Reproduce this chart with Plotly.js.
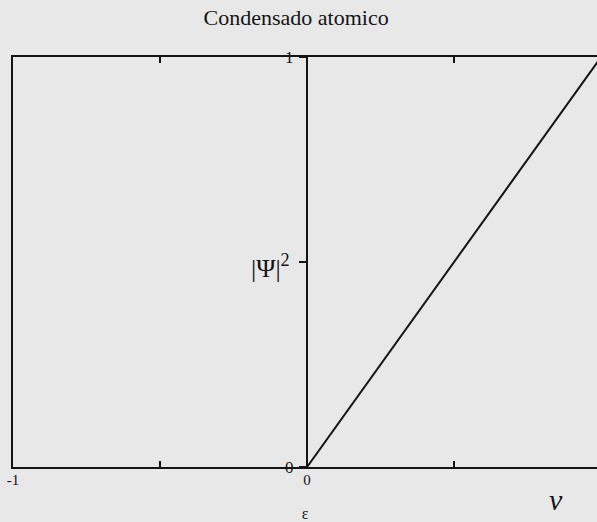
<!DOCTYPE html>
<html>
<head>
<meta charset="utf-8">
<script src="https://cdn.plot.ly/plotly-3.0.1.min.js"></script>
<style>
  html, body { margin: 0; padding: 0; background: #e8e8e8; }
  #chart { width: 597px; height: 522px; }
</style>
</head>
<body>
<div id="chart"></div>
<script>
// Atomic condensate: density grows linearly with energy above zero
const epsilon = [0, 1];
const density = [0, 1];

const xTickVals = [-1, -0.5, 0, 0.5];
const xTickText = ['-1', '', '0', ''];
const yTickVals = [0, 0.5, 1];
const yTickText = ['0', '', '1'];

const serif = 'Liberation Serif';
const ink = '#141414';

const traces = [{
  x: epsilon,
  y: density,
  xaxis: 'x',
  yaxis: 'y2',
  mode: 'lines',
  line: { color: ink, width: 2 },
  hoverinfo: 'skip',
  showlegend: false
}];

const layout = {
  width: 597,
  height: 522,
  margin: { l: 13, r: 0, t: 57, b: 55 },
  paper_bgcolor: '#e8e8e8',
  plot_bgcolor: '#e8e8e8',
  showlegend: false,
  font: { family: serif, color: ink },
  title: {
    text: 'Condensado atomico',
    font: { family: serif, size: 22, color: ink },
    x: 0.496, xanchor: 'center',
    y: 0.966, yanchor: 'middle'
  },
  xaxis: {
    range: [-1, 0.986],
    showgrid: false,
    zeroline: false,
    showline: true,
    linecolor: ink,
    linewidth: 2,
    mirror: 'ticks',
    ticks: 'inside',
    ticklen: 6,
    tickwidth: 2,
    tickcolor: ink,
    tickmode: 'array',
    tickvals: xTickVals,
    ticktext: xTickText,
    ticklabelstandoff: -2,
    tickfont: { family: serif, size: 15, color: ink },
    title: {
      text: 'ε',
      font: { family: serif, size: 16, color: ink },
      standoff: 26
    }
  },
  yaxis: {
    range: [0, 1],
    showgrid: false,
    zeroline: false,
    showline: true,
    linecolor: ink,
    linewidth: 2,
    ticks: '',
    showticklabels: false
  },
  yaxis2: {
    range: [0, 1],
    overlaying: 'y',
    anchor: 'free',
    position: 0.5034,
    side: 'left',
    showgrid: false,
    zeroline: false,
    showline: true,
    linecolor: ink,
    linewidth: 2,
    ticks: 'outside',
    ticklen: 7,
    tickwidth: 2,
    tickcolor: ink,
    tickmode: 'array',
    tickvals: yTickVals,
    ticktext: yTickText,
    ticklabelstandoff: 2,
    tickfont: { family: serif, size: 17, color: ink }
  },
  yaxis3: {
    range: [0, 1],
    overlaying: 'y',
    anchor: 'free',
    position: 0.5034,
    side: 'left',
    showgrid: false,
    zeroline: false,
    showline: false,
    ticks: 'inside',
    ticklen: 6,
    tickwidth: 2,
    tickcolor: ink,
    tickvals: [0.5],
    showticklabels: false
  },
  annotations: [
    {
      text: '|Ψ|<sup>2</sup>',
      xref: 'x', yref: 'y',
      x: -0.125, y: 0.49,
      showarrow: false,
      font: { family: serif, size: 26, color: ink }
    },
    {
      text: '<i>ν</i>',
      xref: 'paper', yref: 'paper',
      x: 0.93, y: -0.08,
      xanchor: 'center', yanchor: 'middle',
      showarrow: false,
      font: { family: serif, size: 30, color: ink }
    }
  ]
};

Plotly.newPlot('chart', traces, layout, { displayModeBar: false, staticPlot: true });
</script>
</body>
</html>
